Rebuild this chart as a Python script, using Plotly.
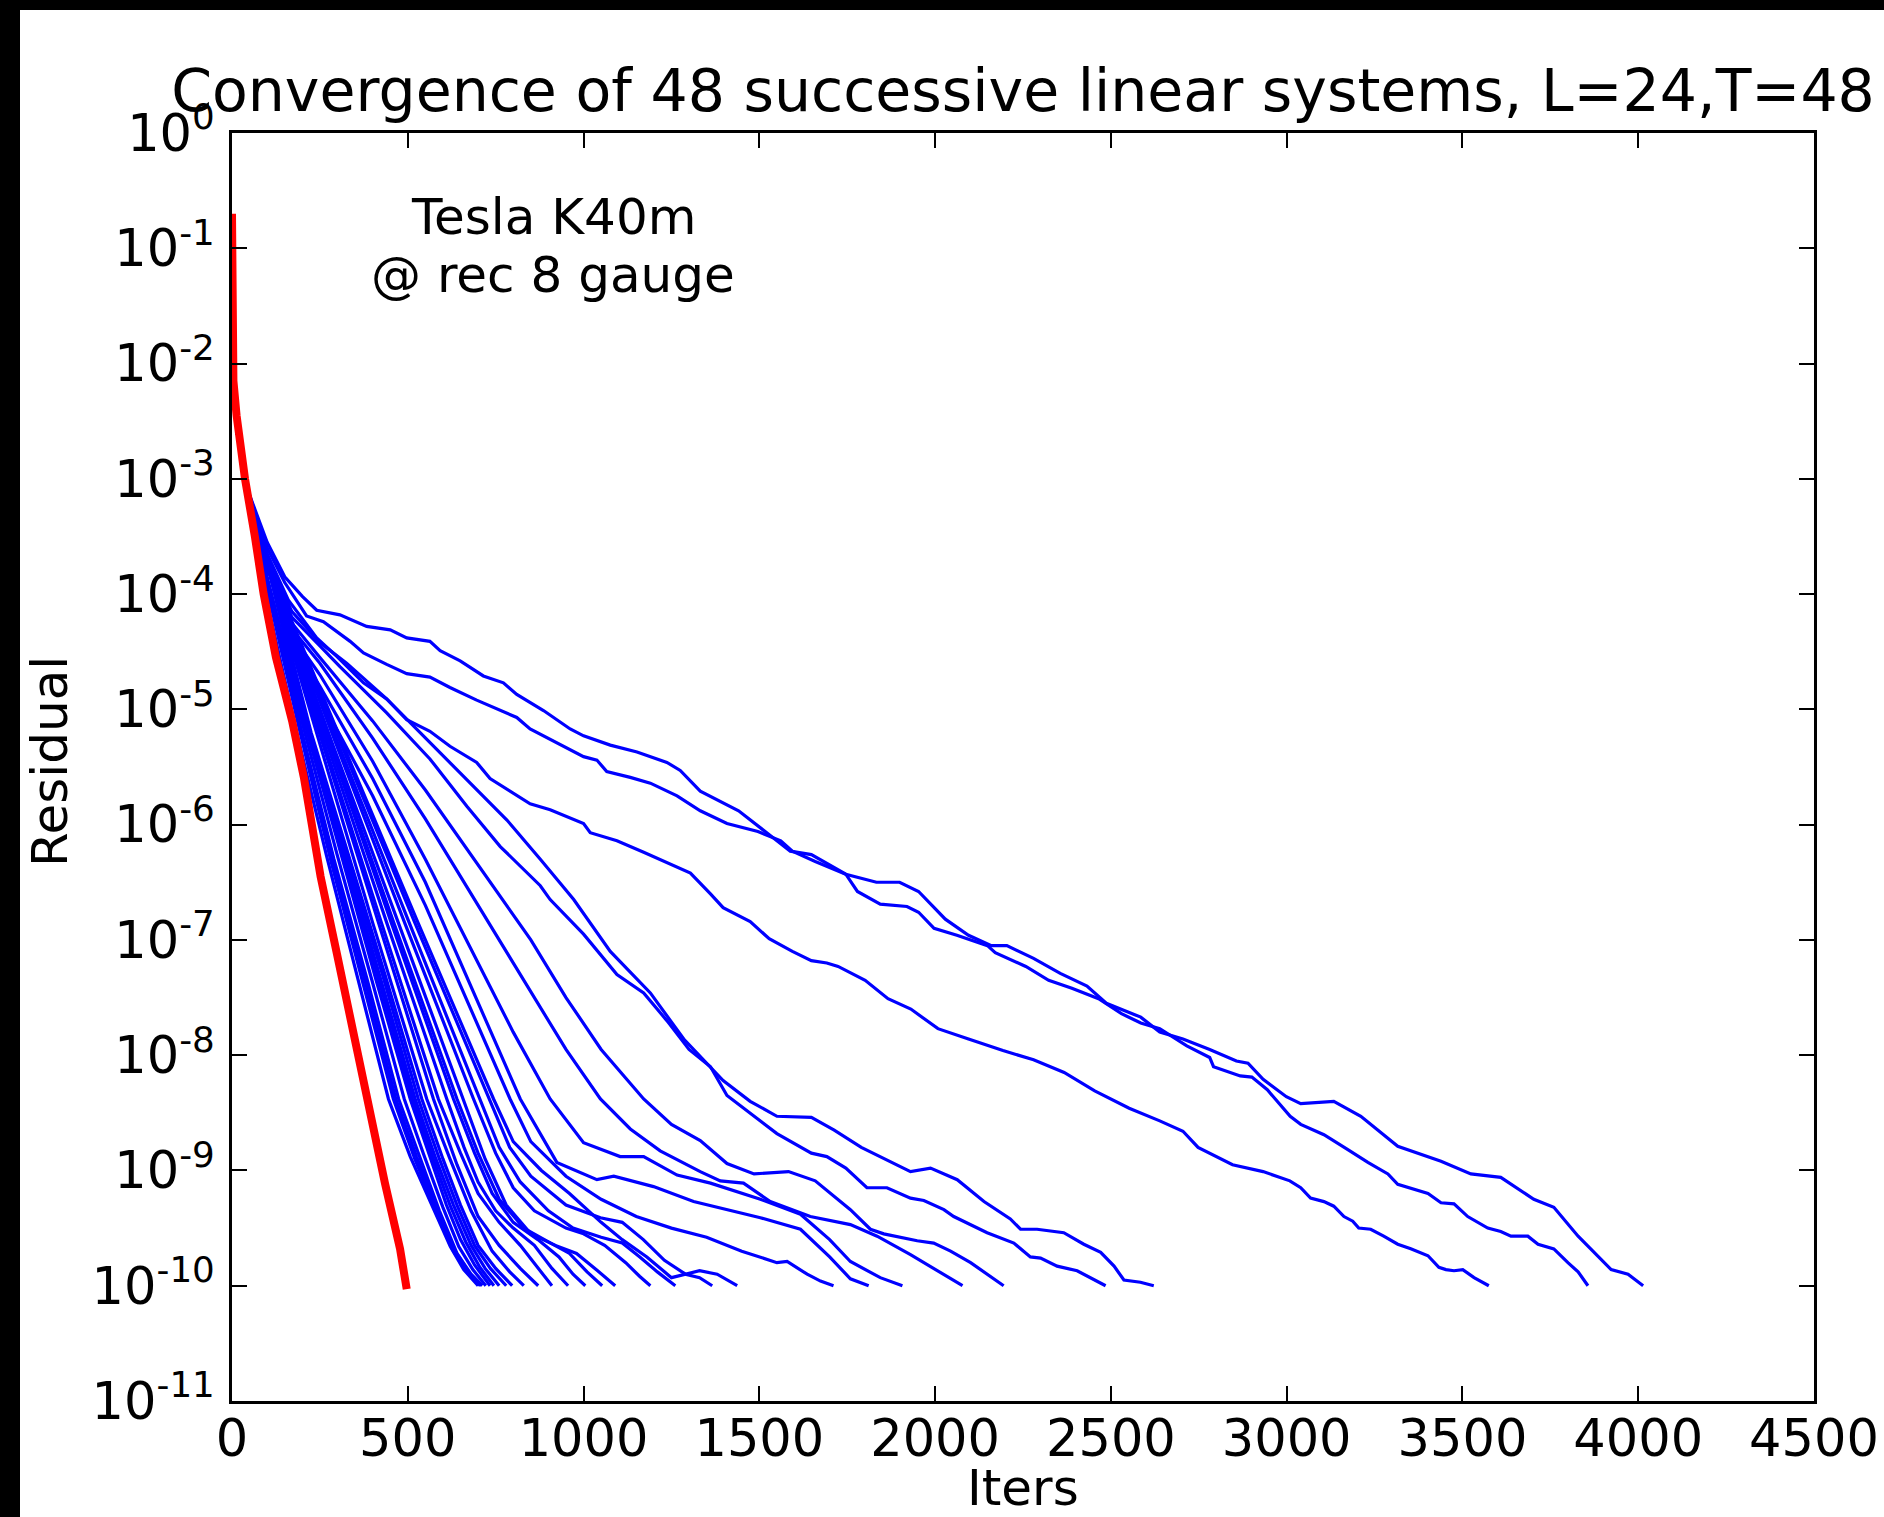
import plotly.graph_objects as go

# ---------------- data (iterations, log10 of residual) ----------------
trunk_iters = [0, 2, 5, 9, 15, 30, 45]
trunk_exps = [-0.8, -1.5, -2.0, -2.35, -2.6, -2.9, -3.1]

red_iters = [0, 0, 1, 4, 13, 37, 65, 90, 125, 171, 205, 236, 244, 252, 297, 340, 388, 435, 478, 492, 497]
red_exps = [-0.7, -1.3, -1.8, -2.15, -2.45, -3.0, -3.5, -4.0, -4.55, -5.1, -5.6, -6.14, -6.27, -6.45, -7.1, -7.74, -8.38, -9.11, -9.68, -9.9, -10.03]

t1_iters = [100, 150, 200, 241, 307, 383, 450, 497, 563, 592, 649, 715, 772, 810, 886, 962, 1000, 1076, 1152, 1199, 1237, 1275, 1332, 1441, 1523, 1588, 1648, 1746, 1833, 1899, 1953, 2029, 2095, 2160, 2204, 2280, 2356, 2432, 2487, 2585, 2639, 2705, 2781, 2857, 2890, 2933, 2999, 3040, 3134, 3211, 3316, 3439, 3524, 3609, 3703, 3760, 3829, 3923, 3971, 4014]
t1_exps = [-3.55, -3.85, -4.02, -4.14, -4.18, -4.28, -4.31, -4.38, -4.41, -4.49, -4.58, -4.71, -4.77, -4.87, -5.01, -5.17, -5.23, -5.31, -5.37, -5.42, -5.46, -5.53, -5.71, -5.88, -6.08, -6.23, -6.26, -6.43, -6.50, -6.50, -6.58, -6.82, -6.96, -7.05, -7.05, -7.16, -7.29, -7.40, -7.55, -7.67, -7.80, -7.86, -7.95, -8.05, -8.07, -8.21, -8.36, -8.42, -8.40, -8.53, -8.79, -8.92, -9.03, -9.06, -9.25, -9.32, -9.57, -9.86, -9.90, -10.0]

t2_iters = [100, 150, 212, 260, 336, 374, 440, 497, 563, 620, 696, 772, 810, 848, 924, 1000, 1038, 1066, 1133, 1190, 1266, 1332, 1408, 1496, 1561, 1594, 1659, 1746, 1779, 1844, 1920, 1953, 1997, 2062, 2149, 2171, 2258, 2323, 2389, 2465, 2530, 2585, 2639, 2716, 2781, 2792, 2868, 2901, 2945, 3010, 3040, 3106, 3174, 3231, 3288, 3316, 3402, 3439, 3476, 3515, 3572, 3609, 3638, 3686, 3715, 3760, 3800, 3829, 3857]
t2_exps = [-3.6, -3.9, -4.19, -4.24, -4.41, -4.51, -4.61, -4.69, -4.72, -4.81, -4.92, -5.02, -5.07, -5.17, -5.29, -5.41, -5.44, -5.54, -5.59, -5.64, -5.75, -5.88, -5.99, -6.06, -6.14, -6.23, -6.32, -6.43, -6.58, -6.69, -6.71, -6.76, -6.90, -6.96, -7.05, -7.11, -7.23, -7.35, -7.42, -7.51, -7.64, -7.72, -7.77, -7.92, -8.02, -8.10, -8.18, -8.19, -8.30, -8.53, -8.60, -8.69, -8.82, -8.93, -9.03, -9.12, -9.20, -9.28, -9.29, -9.40, -9.50, -9.53, -9.57, -9.57, -9.64, -9.68, -9.80, -9.88, -10.0]

t3_iters = [100, 160, 241, 298, 374, 440, 497, 563, 620, 696, 734, 810, 848, 905, 962, 1000, 1019, 1095, 1171, 1237, 1304, 1361, 1397, 1474, 1528, 1594, 1648, 1692, 1724, 1801, 1866, 1931, 2008, 2095, 2193, 2280, 2367, 2454, 2552, 2639, 2705, 2748, 2846, 2933, 3009, 3040, 3068, 3106, 3134, 3163, 3188, 3205, 3239, 3276, 3316, 3353, 3402, 3433, 3453, 3476, 3501, 3533, 3558, 3575]
t3_exps = [-3.65, -4.05, -4.38, -4.54, -4.77, -4.91, -5.09, -5.19, -5.32, -5.46, -5.60, -5.75, -5.82, -5.87, -5.94, -5.99, -6.07, -6.14, -6.24, -6.33, -6.42, -6.60, -6.72, -6.84, -6.99, -7.10, -7.18, -7.20, -7.23, -7.35, -7.51, -7.60, -7.77, -7.86, -7.96, -8.04, -8.15, -8.31, -8.46, -8.57, -8.66, -8.80, -8.95, -9.01, -9.09, -9.15, -9.24, -9.27, -9.31, -9.40, -9.44, -9.50, -9.51, -9.57, -9.64, -9.68, -9.74, -9.84, -9.86, -9.87, -9.86, -9.93, -9.97, -10.0]

c4_iters = [100, 170, 250, 326, 440, 554, 668, 782, 877, 972, 1076, 1190, 1285, 1332, 1397, 1474, 1550, 1648, 1713, 1790, 1888, 1930, 1987, 2063, 2139, 2214, 2243, 2290, 2366, 2423, 2471, 2509, 2537, 2584, 2622]
c4_exps = [-3.68, -4.15, -4.42, -4.6, -4.91, -5.26, -5.61, -5.96, -6.3, -6.65, -7.1, -7.46, -7.86, -8.01, -8.22, -8.40, -8.53, -8.54, -8.65, -8.80, -8.95, -9.01, -8.98, -9.08, -9.27, -9.42, -9.51, -9.51, -9.54, -9.64, -9.71, -9.83, -9.95, -9.97, -10.0]

c5_iters = [100, 170, 250, 307, 440, 563, 668, 763, 877, 905, 1000, 1095, 1171, 1237, 1300, 1361, 1408, 1485, 1550, 1648, 1692, 1746, 1806, 1863, 1930, 1968, 2025, 2053, 2148, 2224, 2271, 2300, 2347, 2404, 2485]
c5_exps = [-3.7, -4.2, -4.45, -4.63, -5.03, -5.43, -5.84, -6.19, -6.53, -6.65, -6.95, -7.30, -7.46, -7.70, -7.95, -8.1, -8.35, -8.53, -8.68, -8.85, -8.88, -8.98, -9.15, -9.15, -9.24, -9.26, -9.34, -9.40, -9.54, -9.63, -9.75, -9.76, -9.83, -9.87, -10.0]

c6_iters = [100, 170, 250, 400, 550, 700, 850, 950, 1050, 1171, 1250, 1332, 1408, 1485, 1583, 1659, 1724, 1759, 1816, 1854, 1949, 1996, 2044, 2101, 2195]
c6_exps = [-3.7, -4.25, -4.55, -5.1, -5.7, -6.35, -7.0, -7.5, -7.95, -8.38, -8.6, -8.74, -8.94, -9.03, -9.01, -9.09, -9.25, -9.34, -9.51, -9.55, -9.61, -9.63, -9.70, -9.80, -10.0]

c7_iters = [100, 170, 250, 400, 550, 700, 850, 950, 1048, 1133, 1218, 1332, 1389, 1455, 1531, 1645, 1759, 1835, 1930, 2006, 2078]
c7_exps = [-3.72, -4.3, -4.6, -5.25, -5.95, -6.7, -7.45, -7.95, -8.38, -8.64, -8.83, -9.01, -9.09, -9.11, -9.27, -9.40, -9.47, -9.57, -9.73, -9.87, -10.0]

c8_iters = [100, 170, 250, 400, 550, 700, 800, 905, 1000, 1104, 1171, 1266, 1361, 1503, 1617, 1700, 1759, 1844, 1907]
c8_exps = [-3.72, -4.35, -4.7, -5.45, -6.3, -7.2, -7.8, -8.38, -8.76, -8.88, -8.88, -9.04, -9.11, -9.25, -9.38, -9.6, -9.79, -9.93, -10.0]

c9_iters = [100, 170, 250, 400, 550, 700, 820, 924, 1038, 1086, 1199, 1313, 1418, 1503, 1617, 1700, 1759, 1811]
c9_exps = [-3.74, -4.4, -4.8, -5.6, -6.5, -7.55, -8.38, -8.93, -9.08, -9.05, -9.14, -9.27, -9.35, -9.41, -9.51, -9.75, -9.94, -10.0]

c10_iters = [100, 170, 250, 400, 550, 700, 791, 850, 950, 1050, 1150, 1250, 1350, 1450, 1550, 1579, 1636, 1674, 1711]
c10_exps = [-3.75, -4.45, -4.9, -5.75, -6.7, -7.75, -8.38, -8.75, -9.05, -9.25, -9.4, -9.5, -9.58, -9.7, -9.80, -9.79, -9.90, -9.96, -10.0]

f1_iters = [70, 95, 180, 269, 360, 445, 507, 573, 621, 659, 700]
f1_exps = [-3.45, -4.0, -5.15, -6.27, -7.35, -8.38, -8.88, -9.34, -9.66, -9.86, -10.0]
f2_iters = [75, 100, 190, 280, 370, 459, 520, 580, 630, 670, 706]
f2_exps = [-3.5, -3.95, -5.15, -6.3, -7.35, -8.38, -8.9, -9.35, -9.7, -9.88, -10.0]
f3_iters = [80, 100, 195, 290, 385, 474, 530, 590, 640, 680, 712]
f3_exps = [-3.5, -3.9, -5.15, -6.3, -7.35, -8.38, -8.85, -9.35, -9.72, -9.9, -10.0]
f4_iters = [85, 100, 205, 305, 410, 507, 560, 610, 650, 690, 734]
f4_exps = [-3.55, -3.85, -5.1, -6.2, -7.35, -8.38, -8.85, -9.3, -9.6, -9.82, -10.0]
f5_iters = [90, 215, 320, 420, 521, 580, 630, 680, 720, 760]
f5_exps = [-3.6, -5.15, -6.25, -7.3, -8.38, -8.9, -9.3, -9.65, -9.85, -10.0]
f6_iters = [95, 225, 330, 435, 540, 600, 650, 700, 750, 797]
f6_exps = [-3.65, -5.2, -6.25, -7.3, -8.38, -8.9, -9.3, -9.65, -9.85, -10.0]
f7_iters = [100, 250, 400, 554, 620, 680, 740, 790, 830]
f7_exps = [-3.75, -5.3, -6.85, -8.38, -8.9, -9.35, -9.7, -9.88, -10.0]
f8_iters = [100, 258, 415, 573, 640, 700, 760, 820, 871]
f8_exps = [-3.75, -5.3, -6.85, -8.38, -8.95, -9.4, -9.65, -9.85, -10.0]
f9_iters = [100, 262, 425, 587, 650, 700, 760, 820, 870, 910]
f9_exps = [-3.74, -5.3, -6.85, -8.38, -8.85, -9.2, -9.45, -9.65, -9.85, -10.0]
f10_iters = [100, 270, 440, 611, 660, 700, 750, 800, 860, 910, 956]
f10_exps = [-3.74, -5.3, -6.85, -8.38, -8.8, -9.1, -9.35, -9.5, -9.65, -9.85, -10.0]
f11_iters = [100, 277, 453, 630, 690, 740, 800, 870, 930, 970, 1005]
f11_exps = [-3.73, -5.3, -6.85, -8.38, -8.85, -9.2, -9.45, -9.6, -9.75, -9.9, -10.0]
f12_iters = [100, 280, 460, 640, 700, 760, 830, 900, 960, 1010, 1053]
f12_exps = [-3.73, -5.3, -6.85, -8.38, -8.85, -9.25, -9.5, -9.62, -9.72, -9.88, -10.0]
f13_iters = [100, 286, 473, 659, 720, 780, 850, 920, 980, 1040, 1090]
f13_exps = [-3.73, -5.3, -6.85, -8.38, -8.9, -9.3, -9.55, -9.65, -9.72, -9.87, -10.0]
f14_iters = [100, 296, 491, 687, 750, 800, 860, 950, 1000, 1060, 1120, 1160, 1190]
f14_exps = [-3.72, -5.3, -6.85, -8.38, -8.85, -9.15, -9.35, -9.5, -9.55, -9.65, -9.8, -9.92, -10.0]
f15_iters = [100, 302, 504, 706, 760, 820, 900, 970, 1050, 1110, 1160, 1210, 1261]
f15_exps = [-3.72, -5.3, -6.85, -8.38, -8.8, -9.1, -9.35, -9.5, -9.58, -9.63, -9.75, -9.88, -10.0]
f16_iters = [100, 310, 520, 730, 790, 850, 950, 1048, 1110, 1170, 1230, 1290, 1330, 1366]
f16_exps = [-3.72, -5.3, -6.85, -8.38, -8.8, -9.05, -9.3, -9.41, -9.45, -9.6, -9.78, -9.9, -9.93, -10.0]
f17_iters = [100, 315, 529, 744, 800, 880, 960, 1050, 1110, 1180, 1250, 1290, 1330, 1380, 1410, 1437]
f17_exps = [-3.72, -5.3, -6.85, -8.38, -8.75, -9.0, -9.2, -9.45, -9.6, -9.75, -9.93, -9.9, -9.87, -9.9, -9.95, -10.0]
f18_iters = [78, 100, 192, 285, 378, 466, 525, 585, 635, 675, 709]
f18_exps = [-3.5, -3.92, -5.15, -6.3, -7.35, -8.38, -8.88, -9.35, -9.7, -9.89, -10.0]
f19_iters = [83, 100, 200, 298, 398, 490, 545, 600, 645, 685, 722]
f19_exps = [-3.52, -3.88, -5.12, -6.25, -7.35, -8.38, -8.86, -9.32, -9.66, -9.86, -10.0]
f20_iters = [88, 210, 312, 415, 514, 570, 620, 665, 705, 745]
f20_exps = [-3.58, -5.12, -6.22, -7.32, -8.38, -8.88, -9.3, -9.62, -9.84, -10.0]
f21_iters = [92, 220, 325, 428, 530, 590, 640, 690, 735, 780]
f21_exps = [-3.62, -5.18, -6.25, -7.3, -8.38, -8.9, -9.3, -9.65, -9.85, -10.0]

y_tick_exps = list(range(0, -12, -1))
x_tick_vals = [0, 500, 1000, 1500, 2000, 2500, 3000, 3500, 4000, 4500]

blue_curves = [
    (t1_iters, t1_exps), (t2_iters, t2_exps), (t3_iters, t3_exps),
    (c4_iters, c4_exps), (c5_iters, c5_exps), (c6_iters, c6_exps), (c7_iters, c7_exps),
    (c8_iters, c8_exps), (c9_iters, c9_exps), (c10_iters, c10_exps),
    (f1_iters, f1_exps), (f2_iters, f2_exps), (f3_iters, f3_exps), (f4_iters, f4_exps),
    (f5_iters, f5_exps), (f6_iters, f6_exps), (f7_iters, f7_exps), (f8_iters, f8_exps),
    (f9_iters, f9_exps), (f10_iters, f10_exps), (f11_iters, f11_exps), (f12_iters, f12_exps),
    (f13_iters, f13_exps), (f14_iters, f14_exps), (f15_iters, f15_exps), (f16_iters, f16_exps),
    (f17_iters, f17_exps), (f18_iters, f18_exps), (f19_iters, f19_exps), (f20_iters, f20_exps),
    (f21_iters, f21_exps),
]

# ---------------- figure ----------------
W, H = 1884, 1517
ML, MR, MT, MB = 232, 70, 133, 116
PW, PH = W - ML - MR, H - MT - MB

fig = go.Figure()
for its, exs in blue_curves:
    xs = trunk_iters + its
    ys = [10 ** e for e in trunk_exps + exs]
    fig.add_trace(go.Scatter(x=xs, y=ys, mode="lines",
                             line=dict(color="#0000ff", width=3.2),
                             hoverinfo="skip", showlegend=False))
fig.add_trace(go.Scatter(x=red_iters, y=[10 ** e for e in red_exps], mode="lines",
                         line=dict(color="#ff0000", width=8),
                         hoverinfo="skip", showlegend=False))

FONT = "DejaVu Sans"
axis_common = dict(showline=True, linewidth=3, linecolor="black", mirror="ticks",
                   ticks="inside", ticklen=15, tickwidth=1.5, tickcolor="black",
                   showgrid=False, zeroline=False, automargin=False,
                   tickfont=dict(family=FONT, size=51, color="black"))

fig.update_xaxes(range=[0, 4500], tickvals=x_tick_vals,
                 ticktext=[str(v) for v in x_tick_vals], ticklabelstandoff=-9,
                 **axis_common)
fig.update_yaxes(type="log", range=[-11, 0],
                 tickvals=[10 ** e for e in y_tick_exps],
                 ticktext=["10<sup>%d</sup>" % e for e in y_tick_exps],
                 ticklabelstandoff=4, **axis_common)

left_bar = (20 - ML) / PW
top_bar = 1 + (MT - 10) / PH
fig.update_layout(
    width=W, height=H, autosize=False,
    margin=dict(l=ML, r=MR, t=MT, b=MB, autoexpand=False),
    paper_bgcolor="white", plot_bgcolor="white",
    font=dict(family=FONT, color="black"),
    title=dict(text="Convergence of 48 successive linear systems, L=24,T=48",
               font=dict(family=FONT, size=58.5, color="black"),
               x=(ML + PW / 2) / W, xanchor="center",
               y=1 - 91 / H, yanchor="middle"),
    shapes=[
        dict(type="rect", xref="paper", yref="paper", x0=-0.3, x1=left_bar,
             y0=-0.3, y1=1.3, fillcolor="black", line=dict(width=0), layer="above"),
        dict(type="rect", xref="paper", yref="paper", x0=-0.3, x1=1.3,
             y0=top_bar, y1=1.3, fillcolor="black", line=dict(width=0), layer="above"),
    ],
    annotations=[
        dict(text="Tesla K40m", xref="paper", yref="paper",
             x=(553 - ML) / PW, y=1 - (217 - MT) / PH, xanchor="center", yanchor="middle",
             showarrow=False, font=dict(family=FONT, size=50, color="black")),
        dict(text="@ rec 8 gauge", xref="paper", yref="paper",
             x=(553 - ML) / PW, y=1 - (275 - MT) / PH, xanchor="center", yanchor="middle",
             showarrow=False, font=dict(family=FONT, size=50, color="black")),
        dict(text="Iters", xref="paper", yref="paper",
             x=0.5, y=-(1488 - MT - PH) / PH, xanchor="center", yanchor="middle",
             showarrow=False, font=dict(family=FONT, size=50, color="black")),
        dict(text="Residual", xref="paper", yref="paper", textangle=-90,
             x=(50 - ML) / PW, y=1 - (762 - MT) / PH, xanchor="center", yanchor="middle",
             showarrow=False, font=dict(family=FONT, size=50, color="black")),
    ],
)

fig.write_html("out.html", config={"displayModeBar": False},
               post_script="document.body.style.margin='0px';document.body.style.overflow='hidden';")
